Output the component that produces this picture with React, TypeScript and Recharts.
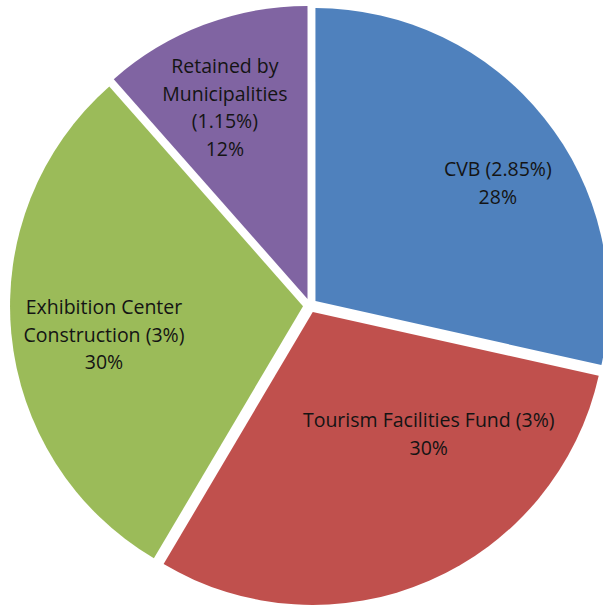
import React from "react";
import { PieChart, Pie, Cell } from "recharts";

// ---- data ----
const categories = [
  "CVB (2.85%)",
  "Tourism Facilities Fund (3%)",
  "Exhibition Center Construction (3%)",
  "Retained by Municipalities (1.15%)",
];
const values = [2.85, 3, 3, 1.15];
const percentLabels = ["28%", "30%", "30%", "12%"];
const labelLines = [
  ["CVB (2.85%)"],
  ["Tourism Facilities Fund (3%)"],
  ["Exhibition Center", "Construction (3%)"],
  ["Retained by", "Municipalities", "(1.15%)"],
];

// ---- style / layout ----
const colors = ["#4F81BD", "#C0504D", "#9BBB59", "#8064A2"];
const W = 603;
const H = 609;
const CX = 310;
const CY = 305.5;
const R = 293;
const EXPLODE = 7;
const labelRadius = [0.743, 0.573, 0.686, 0.713];
const labelAngleShift = [-5.6, 20.3, 2.6, 2.6];
const LINE_H = 27.7;
const FONT = "'Open Sans', 'Liberation Sans', sans-serif";
const FONT_SIZE = 19.5;

const RADIAN = Math.PI / 180;

const data = categories.map((name, i) => ({ name, value: values[i] }));
const total = values.reduce((a, b) => a + b, 0);
const midAngles: number[] = [];
{
  let cum = 0;
  values.forEach((v) => {
    midAngles.push(90 - (360 * (cum + v / 2)) / total);
    cum += v;
  });
}

function makeLabel(sliceIdx: number) {
  return (props: any) => {
    if (props.index !== sliceIdx) return null;
    const { cx, cy, midAngle, outerRadius } = props;
    const ang = (midAngle + labelAngleShift[sliceIdx]) * RADIAN;
    const r = outerRadius * labelRadius[sliceIdx];
    const x = cx + r * Math.cos(ang);
    const y = cy - r * Math.sin(ang);
    const lines = [...labelLines[sliceIdx], percentLabels[sliceIdx]];
    const n = lines.length;
    return (
      <g key={`lbl-${sliceIdx}`}>
        {lines.map((t, k) => (
          <text
            key={k}
            x={x}
            y={y + (k - (n - 1) / 2) * LINE_H}
            textAnchor="middle"
            dominantBaseline="central"
            fontFamily={FONT}
            fontSize={FONT_SIZE}
            fill="#141414"
          >
            {t}
          </text>
        ))}
      </g>
    );
  };
}

export default function App() {
  return (
    <div style={{ position: "absolute", left: 0, top: 0, width: W, height: H, background: "#fff" }}>
      <PieChart width={W} height={H} margin={{ top: 0, right: 0, bottom: 0, left: 0 }}>
        {data.map((_, i) => {
          const ox = EXPLODE * Math.cos(midAngles[i] * RADIAN);
          const oy = -EXPLODE * Math.sin(midAngles[i] * RADIAN);
          return (
            <Pie
              key={i}
              data={data}
              dataKey="value"
              nameKey="name"
              cx={CX + ox}
              cy={CY + oy}
              outerRadius={R}
              innerRadius={0}
              startAngle={90}
              endAngle={-270}
              stroke="none"
              isAnimationActive={false}
              labelLine={false}
              label={makeLabel(i)}
            >
              {data.map((__, j) => (
                <Cell key={j} fill={j === i ? colors[j] : "transparent"} stroke="none" />
              ))}
            </Pie>
          );
        })}
      </PieChart>
    </div>
  );
}
